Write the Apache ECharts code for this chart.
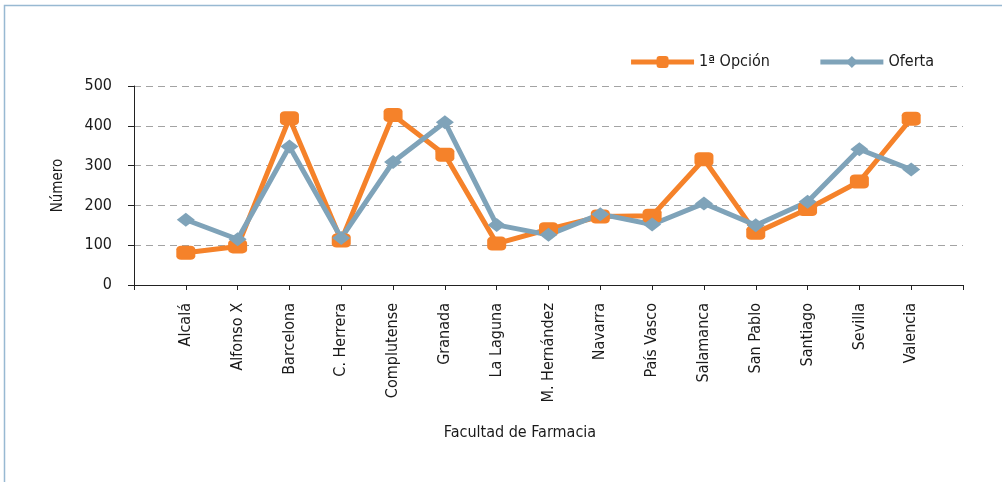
<!DOCTYPE html>
<html>
<head>
<meta charset="utf-8">
<script src="https://cdn.jsdelivr.net/npm/echarts@6/dist/echarts.min.js"></script>
<style>
  html, body { margin: 0; padding: 0; background: #fff; }
  #main { width: 1002px; height: 482px; }
</style>
</head>
<body>
<div id="main"></div>
<script>
// facultades (con un hueco vacío a cada lado, como en el original)
const facultades = ['', 'Alcalá', 'Alfonso X', 'Barcelona', 'C. Herrera', 'Complutense', 'Granada',
    'La Laguna', 'M. Hernández', 'Navarra', 'País Vasco', 'Salamanca', 'San Pablo',
    'Santiago', 'Sevilla', 'Valencia', ''];
const primeraOpcion = [null, 81, 97, 419, 112, 427, 327, 104, 140, 172, 174, 316, 131, 191, 260, 418, null];
const oferta = [null, 164, 115, 348, 118, 309, 409, 151, 126, 178, 152, 205, 150, 209, 341, 290, null];

const fuente = '"DejaVu Sans Condensed", sans-serif';
const naranja = '#f5822a';
const azul = '#7fa3b9';
const texto = '#1a1a1a';

let chart = echarts.init(document.getElementById('main'));
chart.setOption({
    animation: false,
    textStyle: { fontFamily: fuente, color: texto },
    graphic: [{
        type: 'polyline',
        shape: { points: [[4.5, 482], [4.5, 5.5], [1002, 5.5]] },
        style: { stroke: '#98b9d2', lineWidth: 1.5, fill: null }
    }],
    legend: {
        top: 49,
        right: 63,
        itemWidth: 63,
        itemHeight: 15,
        itemGap: 48,
        lineStyle: { width: 5 },
        textStyle: { fontFamily: fuente, fontSize: 16, color: texto },
        data: ['1ª Opción', 'Oferta']
    },
    grid: { left: 134, right: 39, top: 86, bottom: 197 },
    xAxis: {
        type: 'category',
        data: facultades,
        boundaryGap: false,
        name: 'Facultad de Farmacia',
        nameLocation: 'middle',
        nameGap: 140,
        nameTextStyle: { fontFamily: fuente, fontSize: 16, color: texto, padding: [0, 57, 0, 0] },
        axisLine: { lineStyle: { color: '#222', width: 1 } },
        axisTick: { alignWithLabel: true, length: 5, interval: 0, lineStyle: { color: '#222' } },
        axisLabel: { rotate: 90, interval: 0, fontSize: 16, color: texto, margin: 18, fontFamily: fuente },
        splitLine: { show: false }
    },
    yAxis: {
        type: 'value',
        min: 0,
        max: 500,
        interval: 100,
        name: 'Número',
        nameLocation: 'middle',
        nameGap: 68,
        nameRotate: 90,
        nameTextStyle: { fontFamily: fuente, fontSize: 15, color: texto },
        axisLine: { show: true, lineStyle: { color: '#222', width: 1 } },
        axisTick: { show: true, length: 6, lineStyle: { color: '#222' } },
        axisLabel: { fontSize: 16, color: texto, margin: 22, fontFamily: fuente },
        splitLine: { lineStyle: { color: '#a3a3a3', type: [7, 5], width: 1.2 } }
    },
    series: [{
        name: '1ª Opción',
        type: 'line',
        data: primeraOpcion,
        symbol: 'roundRect',
        symbolSize: [19, 14],
        lineStyle: { color: naranja, width: 5 },
        itemStyle: { color: naranja }
    }, {
        name: 'Oferta',
        type: 'line',
        data: oferta,
        symbol: 'diamond',
        symbolSize: [18, 14],
        lineStyle: { color: azul, width: 5 },
        itemStyle: { color: azul }
    }]
});
</script>
</body>
</html>
